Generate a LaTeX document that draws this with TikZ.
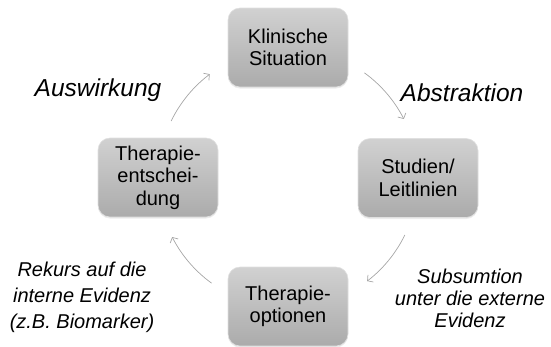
\documentclass[tikz,border=0pt]{standalone}
\usepackage{fontspec}
\setmainfont{Liberation Sans}
\usetikzlibrary{arrows.meta,shadows,calc}
\tikzset{
  stage/.style={rounded corners=12pt, minimum width=120pt, minimum height=79pt,
    inner sep=0pt, align=center, top color=black!18, bottom color=black!33,
    draw=black!12, line width=0.6pt, font=\fontsize{20}{22.5}\selectfont,
    drop shadow={opacity=0.15, shadow xshift=0pt, shadow yshift=-1.5pt}},
  biglabel/.style={font=\fontsize{24.5}{28}\selectfont\itshape, inner sep=0pt},
  smalllabel/.style={font=\fontsize{20}{26}\selectfont\itshape, inner sep=0pt, align=center},
  cyc/.style={draw=black!35, line width=0.7pt, -{Straight Barb[length=4pt,width=9pt]}}
}
\begin{document}
\begin{tikzpicture}[x=1pt,y=-1pt]
  \useasboundingbox (0,0) rectangle (551,346);
  \coordinate (c) at (288,178);
  \node[stage] (klin) at (288,47.5) {Klinische\\Situation};
  \node[stage] (stud) at (418,178) {Studien/\\Leitlinien};
  \node[stage] (opt) at (288,306.5) {Therapie-\\optionen};
  \node[stage] (ent) at (158,177.5) {Therapie-\\entschei-\\dung};
  \coordinate (a1) at ($(c)+(-54:130)$);
  \coordinate (a2) at ($(c)+(26:130)$);
  \coordinate (a3) at ($(c)+(126:130)$);
  \coordinate (a4) at ($(c)+(206:130)$);
  \draw[cyc] (a1) arc[start angle=-54, end angle=-27, radius=130];
  \draw[cyc] (a2) arc[start angle=26, end angle=52.5, radius=130];
  \draw[cyc] (a3) arc[start angle=126, end angle=153, radius=130];
  \draw[cyc] (a4) arc[start angle=206, end angle=233, radius=130];
  \node[biglabel] (ausw) at (98,90) {Auswirkung};
  \node[biglabel] (abst) at (462,93) {Abstraktion};
  \node[smalllabel] (rek) at (82,297) {Rekurs auf die\\interne Evidenz\\(z.B. Biomarker)};
  \node[smalllabel, font=\fontsize{20}{22}\selectfont\itshape] (sub) at (470,298) {Subsumtion\\unter die externe\\Evidenz};
\end{tikzpicture}
\end{document}
